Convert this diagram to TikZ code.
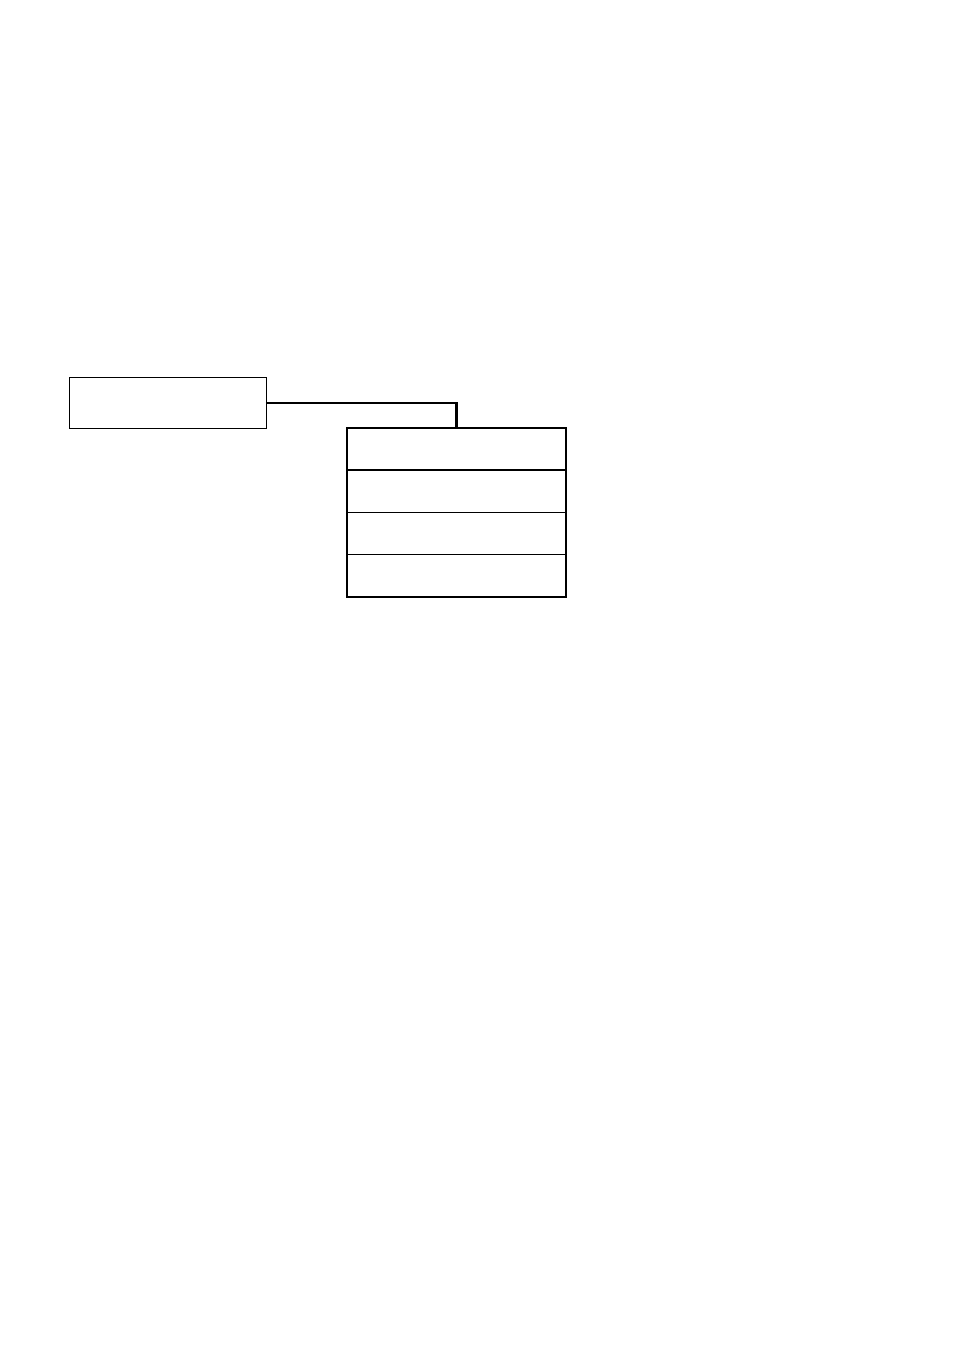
\documentclass[tikz,border=0pt]{standalone}
\usetikzlibrary{positioning}

\tikzset{
    topbox/.style={draw=black, line width=0.5pt, inner sep=0pt, outer sep=0pt,
        minimum width=3.94cm, minimum height=1.02cm},
    rowbox/.style={draw=black, line width=0.9pt, inner sep=0pt, outer sep=0pt,
        minimum width=4.38cm, minimum height=0.845cm}
}

\begin{document}
\begin{tikzpicture}[x=0.02cm, y=-0.02cm]
        \useasboundingbox (0,0) rectangle (954,1354);
        \node[topbox] (top) at (167.5,403) {};
        \node[rowbox] (rowa) at (456.5,449) {};
        \node[rowbox, below=0pt of rowa] (rowb) {};
        \node[rowbox, below=0pt of rowb] (rowc) {};
        \node[rowbox, below=0pt of rowc] (rowd) {};
        \draw[line width=1.2pt] (top.east) -| (rowa.north);
    \end{tikzpicture}
\end{document}
